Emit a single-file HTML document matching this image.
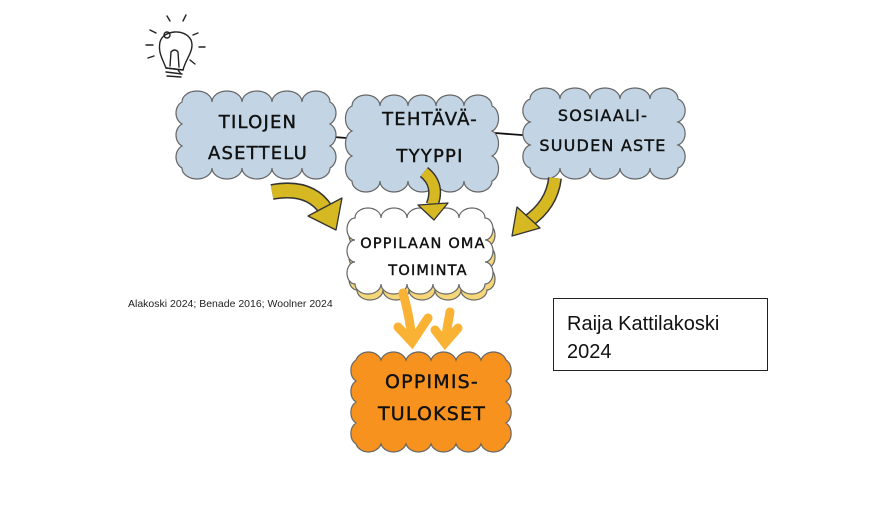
<!DOCTYPE html>
<html><head><meta charset="utf-8"><style>
html,body{margin:0;padding:0;background:#fff;}
svg{display:block}
.t{font-family:"DejaVu Sans","Liberation Sans",sans-serif;letter-spacing:1.2px;fill:#111;text-anchor:middle;stroke:#111;stroke-width:0.4}
</style></head><body>
<svg width="889" height="519" viewBox="0 0 889 519" xmlns="http://www.w3.org/2000/svg">
<!-- bulb -->
<g stroke="#222" stroke-width="1.4" fill="none" stroke-linecap="round">
<path d="M166,68 C162,58 158,52 160,42 C163,30 185,28 191,40 C195,50 186,58 183,70 Z"/>
<path d="M166,68 L183,70 M166,72 L182,74 M167,76 L181,77"/>
<circle cx="167" cy="35" r="3"/>
<path d="M170,66 L171,52 M179,67 L178,52 M171,52 Q175,48 178,52"/>
<path d="M167,16 L170,21 M186,15 L183,21 M150,30 L156,33 M198,33 L193,35 M146,45 L153,45 M199,47 L205,47 M148,58 L154,56 M190,60 L195,64 M178,70 L181,74"/>
</g>
<!-- connector lines -->
<path d="M320,136 L360,139 M495,133 L535,136" stroke="#111" stroke-width="1.8"/>
<!-- clouds -->
<g stroke="#666" stroke-width="1.2">
<path fill="#c3d5e4" d="M182,102 a15,11 0 0 1 30,0 a15,11 0 0 1 30,0 a15,11 0 0 1 30,0 a15,11 0 0 1 30,0 a14,11 0 0 1 28,0 a10,12 0 0 1 0,22 a10,12 0 0 1 0,22 a10,12 0 0 1 0,22 a14,11 0 0 1 -28,0 a15,11 0 0 1 -30,0 a15,11 0 0 1 -30,0 a15,11 0 0 1 -30,0 a15,11 0 0 1 -30,0 a10,12 0 0 1 0,-22 a10,12 0 0 1 0,-22 a10,12 0 0 1 0,-22 Z"/>
<path fill="#c3d5e4" d="M352,106 a14,11 0 0 1 28,0 a14,11 0 0 1 28,0 a14,11 0 0 1 28,0 a14,11 0 0 1 28,0 a14,11 0 0 1 28,0 a9,13 0 0 1 0,25 a9,13 0 0 1 0,25 a9,13 0 0 1 0,25 a14,11 0 0 1 -28,0 a14,11 0 0 1 -28,0 a14,11 0 0 1 -28,0 a14,11 0 0 1 -28,0 a14,11 0 0 1 -28,0 a9,13 0 0 1 0,-25 a9,13 0 0 1 0,-25 a9,13 0 0 1 0,-25 Z"/>
<path fill="#c3d5e4" d="M530,99 a15,11 0 0 1 30,0 a15,11 0 0 1 30,0 a15,11 0 0 1 30,0 a15,11 0 0 1 30,0 a14,11 0 0 1 28,0 a10,12 0 0 1 0,23 a10,12 0 0 1 0,23 a10,12 0 0 1 0,23 a14,11 0 0 1 -28,0 a15,11 0 0 1 -30,0 a15,11 0 0 1 -30,0 a15,11 0 0 1 -30,0 a15,11 0 0 1 -30,0 a10,12 0 0 1 0,-23 a10,12 0 0 1 0,-23 a10,12 0 0 1 0,-23 Z"/>
<!-- oppilaan shadow -->
<path fill="#f5d77a" d="M357,224 a13,10 0 0 1 26,0 a13,10 0 0 1 26,0 a13,10 0 0 1 26,0 a13,10 0 0 1 26,0 a13,10 0 0 1 26,0 a8,11 0 0 1 0,22 a8,11 0 0 1 0,22 a8,11 0 0 1 0,22 a13,10 0 0 1 -26,0 a13,10 0 0 1 -26,0 a13,10 0 0 1 -26,0 a13,10 0 0 1 -26,0 a13,10 0 0 1 -26,0 a8,11 0 0 1 0,-22 a8,11 0 0 1 0,-22 a8,11 0 0 1 0,-22 Z"/>
<path fill="#fff" d="M355,218 a13,10 0 0 1 26,0 a13,10 0 0 1 26,0 a13,10 0 0 1 26,0 a13,10 0 0 1 26,0 a13,10 0 0 1 26,0 a8,11 0 0 1 0,22 a8,11 0 0 1 0,22 a8,11 0 0 1 0,22 a13,10 0 0 1 -26,0 a13,10 0 0 1 -26,0 a13,10 0 0 1 -26,0 a13,10 0 0 1 -26,0 a13,10 0 0 1 -26,0 a8,11 0 0 1 0,-22 a8,11 0 0 1 0,-22 a8,11 0 0 1 0,-22 Z"/>
<path fill="#f7921e" d="M356,360 a13,11 0 0 1 25,0 a13,11 0 0 1 25,0 a13,11 0 0 1 25,0 a13,11 0 0 1 25,0 a13,11 0 0 1 25,0 a13,11 0 0 1 25,0 a10,12 0 0 1 0,21 a10,12 0 0 1 0,21 a10,12 0 0 1 0,21 a10,12 0 0 1 0,21 a13,11 0 0 1 -25,0 a13,11 0 0 1 -25,0 a13,11 0 0 1 -25,0 a13,11 0 0 1 -25,0 a13,11 0 0 1 -25,0 a13,11 0 0 1 -25,0 a10,12 0 0 1 0,-21 a10,12 0 0 1 0,-21 a10,12 0 0 1 0,-21 a10,12 0 0 1 0,-21 Z"/>
</g>
<!-- yellow arrows -->
<g stroke-linecap="butt" fill="none">
<path d="M272,192 Q310,185 326,210" stroke="#333" stroke-width="16"/>
<path d="M272,192 Q310,185 326,210" stroke="#d6b823" stroke-width="13"/>
<path d="M424,172 Q440,185 432,205" stroke="#333" stroke-width="13"/>
<path d="M424,172 Q440,185 432,205" stroke="#d6b823" stroke-width="10"/>
<path d="M555,178 Q552,205 527,222" stroke="#333" stroke-width="14"/>
<path d="M555,178 Q552,205 527,222" stroke="#d6b823" stroke-width="11"/>
</g>
<g fill="#d6b823" stroke="#333" stroke-width="1.3" stroke-linejoin="round">
<polygon points="308,216 342,198 336,230"/>
<polygon points="418,205 448,203 434,220"/>
<polygon points="517,207 540,228 512,236"/>
</g>
<!-- orange arrows -->
<g stroke="#f9b233" stroke-width="9" stroke-linecap="round" fill="none">
<path d="M403,293 Q410,318 412,340"/>
<path d="M398,327 L412,342 L428,318"/>
<path d="M450,312 Q447,328 445,342"/>
<path d="M435,330 L445,343 L458,328"/>
</g>
<!-- labels -->
<g class="t" font-size="18">
<text x="258" y="128">TILOJEN</text>
<text x="258" y="159">ASETTELU</text>
<text x="430" y="125">TEHTÄVÄ-</text>
<text x="430" y="162">TYYPPI</text>
<text x="603" y="121" font-size="16">SOSIAALI-</text>
<text x="603" y="151" font-size="16">SUUDEN ASTE</text>
<text x="423" y="248" font-size="14.5">OPPILAAN OMA</text>
<text x="428" y="275" font-size="14.5">TOIMINTA</text>
<text x="432" y="388" font-size="19">OPPIMIS-</text>
<text x="432" y="420" font-size="19">TULOKSET</text>
</g>
<text x="128" y="307" font-family="Liberation Sans, sans-serif" font-size="10.5" fill="#222">Alakoski 2024; Benade 2016; Woolner 2024</text>
<rect x="553.5" y="298.5" width="214" height="72" fill="#fff" stroke="#222" stroke-width="1"/>
<text x="567" y="330" font-family="Liberation Sans, sans-serif" font-size="20" fill="#111">Raija Kattilakoski</text>
<text x="567" y="358" font-family="Liberation Sans, sans-serif" font-size="20" fill="#111">2024</text>
</svg>
</body></html>
